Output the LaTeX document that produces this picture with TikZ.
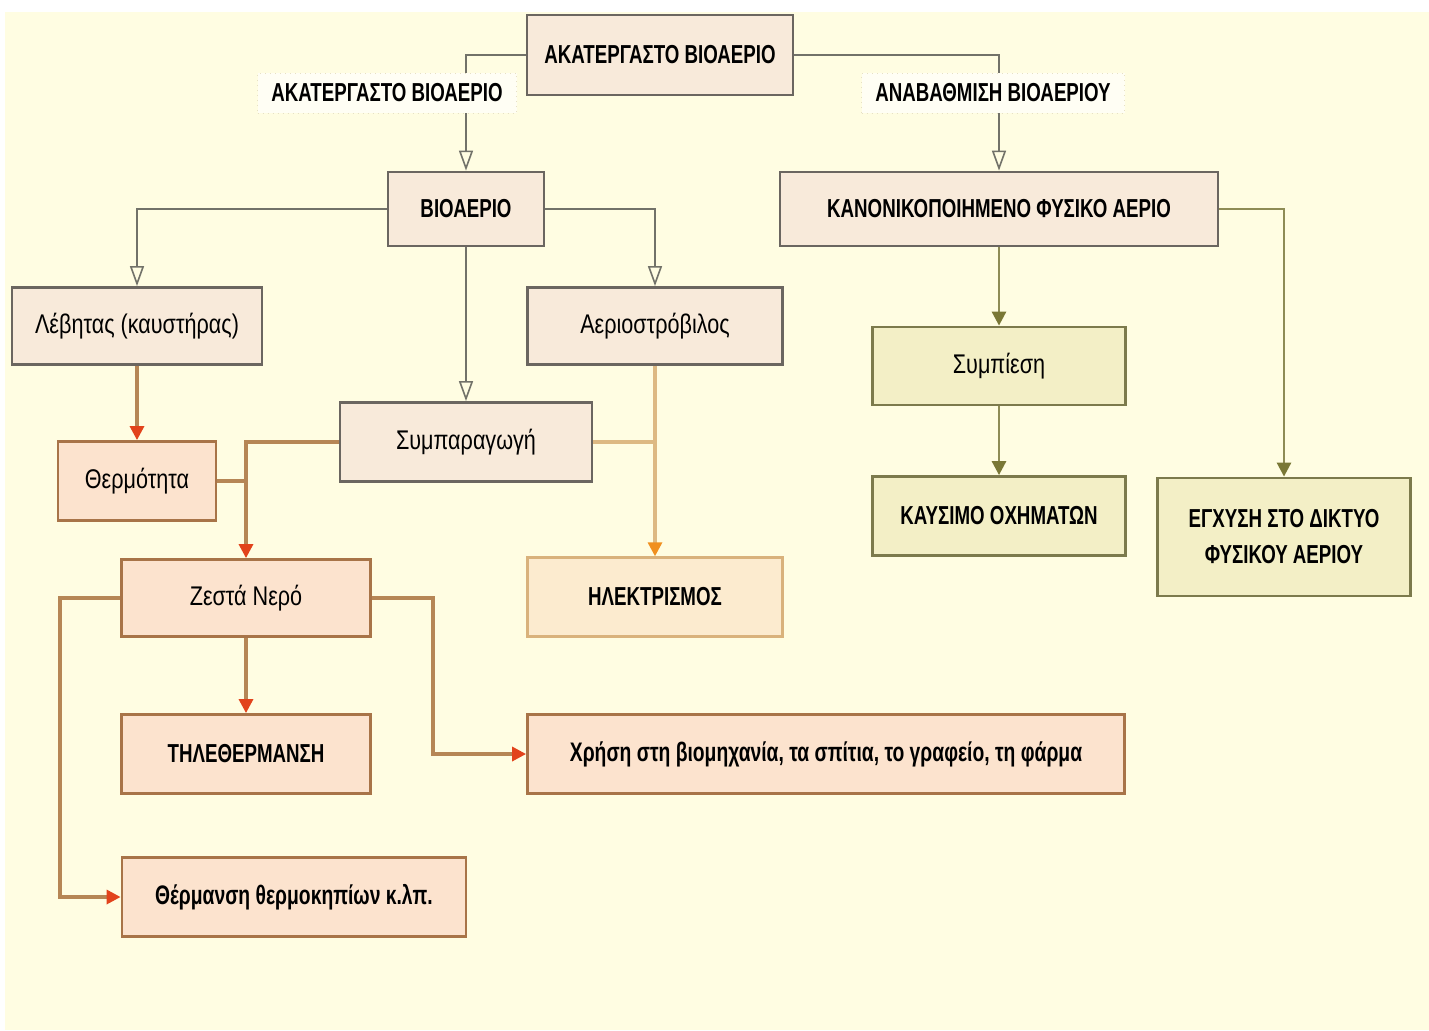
\documentclass[tikz,border=0pt]{standalone}
\usepackage{fontspec}
\setmainfont{Liberation Sans}[FakeStretch=0.8]
\newfontfamily\capsfont{Liberation Sans}[FakeStretch=0.72]
\usetikzlibrary{arrows.meta, positioning}
\definecolor{paper}{HTML}{FFFDE2}
\definecolor{boxfill}{HTML}{F8EADA}
\definecolor{boxline}{HTML}{6B6660}
\definecolor{heatfill}{HTML}{FCE3CE}
\definecolor{heatedge}{HTML}{A87448}
\definecolor{heatwire}{HTML}{B68655}
\definecolor{heattip}{HTML}{E2431C}
\definecolor{elecfill}{HTML}{FCEBCF}
\definecolor{elecedge}{HTML}{D9B27C}
\definecolor{elecwire}{HTML}{DDB983}
\definecolor{electip}{HTML}{F09020}
\definecolor{gasfill}{HTML}{F3EFC6}
\definecolor{gasedge}{HTML}{7C7A4C}
\definecolor{gaswire}{HTML}{8E8C55}
\definecolor{gastip}{HTML}{7A7836}
\definecolor{wiregray}{HTML}{727269}
\definecolor{lblfill}{HTML}{FFFEF4}
\definecolor{lbledge}{HTML}{E6E0C4}

\begin{document}
\begin{tikzpicture}[x=0.5pt, y=-0.5pt,
    sz/.style 2 args={minimum width=#1*0.5pt, minimum height=#2*0.5pt, inner sep=0pt},
    capstxt/.style={font=\capsfont\bfseries\fontsize{13}{18}\selectfont},
    boldtxt/.style={font=\capsfont\bfseries\fontsize{13.4}{18}\selectfont},
    plaintxt/.style={font=\fontsize{13.5}{16}\selectfont},
    graybox/.style={draw=boxline, fill=boxfill, line width=1.4pt},
    heatbox/.style={draw=heatedge, fill=heatfill, line width=1.4pt},
    elecbox/.style={draw=elecedge, fill=elecfill, line width=1.2pt},
    gasbox/.style={draw=gasedge, fill=gasfill, line width=1.4pt},
    lbl/.style={draw=lbledge, fill=lblfill, line width=0.5pt, dotted},
    grayarrow/.style={draw=wiregray, line width=1pt,
      -{Triangle[open, width=7pt, length=10pt, line width=0.8pt]}},
    heatwire/.style={draw=heatwire, line width=1.6pt},
    heatarrow/.style={heatwire, -{Triangle[color=heattip, width=7pt, length=7pt]}},
    elecwire/.style={draw=elecwire, line width=1.6pt},
    elecarrow/.style={elecwire, -{Triangle[color=electip, width=7pt, length=7pt]}},
    gasarrow/.style={draw=gaswire, line width=1.4pt,
      -{Triangle[color=gastip, width=7pt, length=7pt]}}]

  % background
  \fill[white] (0,0) rectangle (1429,1030);
  \fill[paper] (5,12) rectangle (1429,1030);
  \useasboundingbox (0,0) rectangle (1429,1030);

  % source and first split
  \node[graybox, capstxt, sz={266}{80}] (raw) at (660,55) {ΑΚΑΤΕΡΓΑΣΤΟ ΒΙΟΑΕΡΙΟ};
  \node[graybox, capstxt, sz={156}{74}] (bio) at (466,209) {ΒΙΟΑΕΡΙΟ};
  \node[graybox, capstxt, sz={438}{74}] (ngas) at (999,209) {ΚΑΝΟΝΙΚΟΠΟΙΗΜΕΝΟ ΦΥΣΙΚΟ ΑΕΡΙΟ};

  % biogas branch
  \node[graybox, plaintxt, sz={250}{77}] (boiler) at (137,326) {Λέβητας (καυστήρας)};
  \node[graybox, plaintxt, sz={255}{77}] (turb) at (655,326) {Αεριοστρόβιλος};
  \node[graybox, plaintxt, sz={252}{79}] (chp) at (466,442) {Συμπαραγωγή};
  \node[heatbox, plaintxt, sz={158}{79}] (heat) at (137,481) {Θερμότητα};
  \node[heatbox, plaintxt, sz={249}{77}] (water) at (246,598) {Ζεστά Νερό};
  \node[elecbox, capstxt, sz={255}{79}] (elec) at (655,597) {ΗΛΕΚΤΡΙΣΜΟΣ};
  \node[heatbox, capstxt, sz={249}{79}] (dh) at (246,754) {ΤΗΛΕΘΕΡΜΑΝΣΗ};
  \node[heatbox, boldtxt, sz={597}{79}] (use) at (826,754) {Χρήση στη βιομηχανία, τα σπίτια, το γραφείο, τη φάρμα};
  \node[heatbox, boldtxt, sz={344}{79}] (glass) at (294,897) {Θέρμανση θερμοκηπίων κ.λπ.};

  % natural gas branch
  \node[gasbox, plaintxt, sz={253}{78}] (comp) at (999,366) {Συμπίεση};
  \node[gasbox, capstxt, sz={253}{79}] (fuel) at (999,516) {ΚΑΥΣΙΜΟ ΟΧΗΜΑΤΩΝ};
  \node[gasbox, capstxt, align=center, sz={253}{118}] (grid) at (1284,537) {ΕΓΧΥΣΗ ΣΤΟ ΔΙΚΤΥΟ\\ΦΥΣΙΚΟΥ ΑΕΡΙΟΥ};

  % connectors
  \draw[grayarrow] (raw.west) -| (bio.north);
  \draw[grayarrow] (raw.east) -| (ngas.north);
  \draw[grayarrow] (bio.west) -| (boiler.north);
  \draw[grayarrow] (bio.east) -| (turb.north);
  \draw[grayarrow] (bio.south) -- (chp.north);

  \draw[heatarrow] (boiler.south) -- (heat.north);
  \draw[heatwire] (heat.east) -- (heat.east -| water.north);
  \draw[heatarrow] (chp.west) -| (water.north);
  \draw[elecwire] (chp.east) -- (chp.east -| elec.north);
  \draw[elecarrow] (turb.south) -- (elec.north);
  \draw[heatarrow] (water.south) -- (dh.north);
  \coordinate (wl) at (60,598);
  \coordinate (wr) at (433,598);
  \draw[heatarrow] (water.west) -- (wl) |- (glass.west);
  \draw[heatarrow] (water.east) -- (wr) |- (use.west);

  \draw[gasarrow] (ngas.south) -- (comp.north);
  \draw[gasarrow] (comp.south) -- (fuel.north);
  \draw[gasarrow] (ngas.east) -| (grid.north);

  % labels on the first lines
  \node[lbl, capstxt, sz={259}{40}] (lraw) at (387,93) {ΑΚΑΤΕΡΓΑΣΤΟ ΒΙΟΑΕΡΙΟ};
  \node[lbl, capstxt, sz={263}{40}] (lupg) at (993,93) {ΑΝΑΒΑΘΜΙΣΗ ΒΙΟΑΕΡΙΟΥ};
\end{tikzpicture}
\end{document}
